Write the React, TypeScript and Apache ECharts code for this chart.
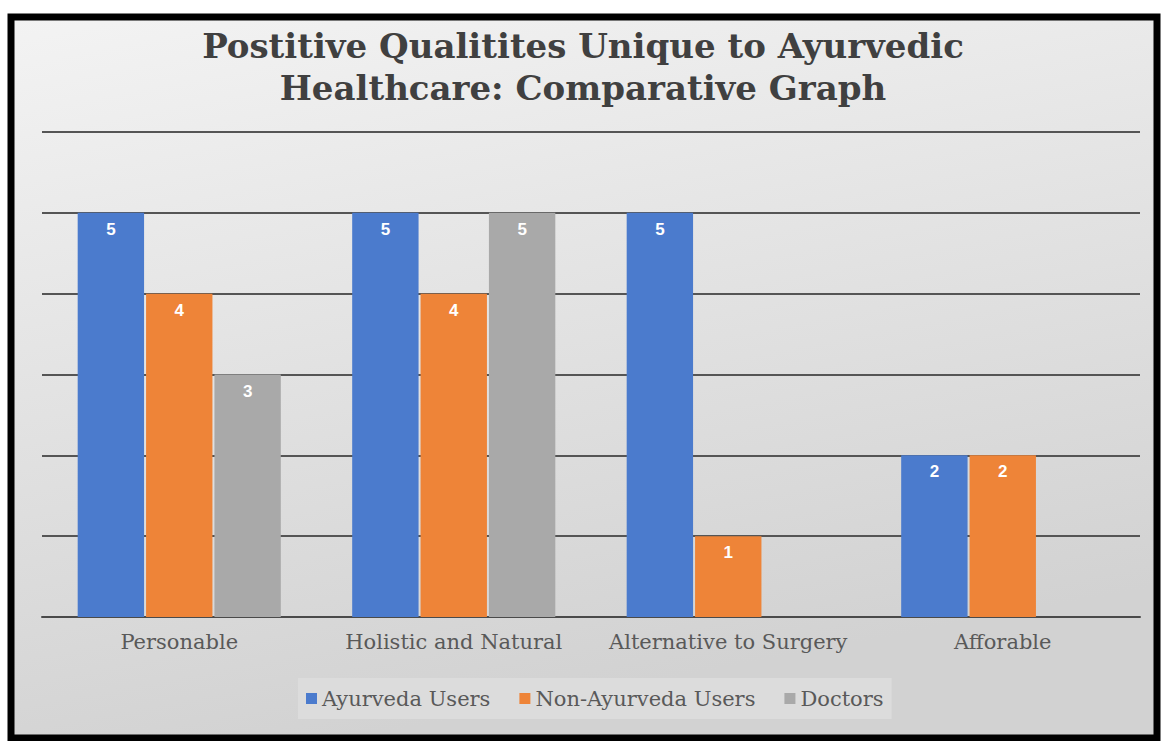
import React, { useEffect, useRef } from "react";
import * as echarts from "echarts";

const titleLines = ["Postitive Qualitites Unique to Ayurvedic", "Healthcare: Comparative Graph"];
const categories = ["Personable", "Holistic and Natural", "Alternative to Surgery", "Afforable"];
const seriesNames = ["Ayurveda Users", "Non-Ayurveda Users", "Doctors"];
const ayurvedaUsers = [5, 5, 5, 2];
const nonAyurvedaUsers = [4, 4, 1, 2];
const doctors = [3, 5, 0, 0];
const seriesColors = ["#4b7bcd", "#ee8438", "#a9a9a9"];

const SERIF = "'DejaVu Serif', 'Liberation Serif', serif";

export default function App() {
  const ref = useRef<HTMLDivElement>(null);

  useEffect(() => {
    if (!ref.current) return;
    const chart = echarts.init(ref.current, undefined, { renderer: "svg" });
    const values = [ayurvedaUsers, nonAyurvedaUsers, doctors];

    chart.setOption({
      animation: false,
      backgroundColor: "#ffffff",
      graphic: [
        {
          type: "rect",
          z: -10,
          silent: true,
          shape: { x: 11, y: 17, width: 1146, height: 721 },
          style: {
            fill: new echarts.graphic.LinearGradient(0, 0, 0.3, 1, [
              { offset: 0, color: "#f3f3f3" },
              { offset: 1, color: "#d2d2d2" },
            ]),
            stroke: "#000000",
            lineWidth: 7,
          },
        },
        {
          type: "text",
          left: "center",
          top: 25,
          style: {
            text: titleLines.join("\n"),
            font: `bold 34px ${SERIF}`,
            fill: "#404040",
            textAlign: "center",
            lineHeight: 42,
          },
        },
      ],
      grid: { left: 42, right: 26, top: 132, bottom: 124 },
      legend: {
        data: seriesNames,
        bottom: 22,
        left: 298,
        itemWidth: 11,
        itemHeight: 11,
        itemGap: 29,
        padding: [10, 8, 10, 8],
        backgroundColor: "#dcdcdc",
        icon: "rect",
        textStyle: { fontFamily: SERIF, fontSize: 21, color: "#595959" },
      },
      xAxis: {
        type: "category",
        data: categories,
        axisTick: { show: false },
        axisLine: { lineStyle: { color: "#4a4a4a", width: 2 } },
        axisLabel: {
          interval: 0,
          fontFamily: SERIF,
          fontSize: 21,
          color: "#595959",
          margin: 14,
        },
      },
      yAxis: {
        type: "value",
        min: 0,
        max: 6,
        interval: 1,
        axisLabel: { show: false },
        axisLine: { show: false },
        axisTick: { show: false },
        splitLine: { lineStyle: { color: "#555555", width: 2 } },
      },
      series: seriesNames.map((name, i) => ({
        name,
        type: "bar",
        data: values[i],
        barCategoryGap: "26%",
        barGap: "3%",
        itemStyle: { color: seriesColors[i] },
        label: {
          show: true,
          position: "insideTop",
          distance: 8,
          color: "#ffffff",
          fontFamily: "'Liberation Sans', Arial, sans-serif",
          fontWeight: "bold",
          fontSize: 17,
          formatter: (p: any) => (p.value ? String(p.value) : ""),
        },
      })),
    });

    return () => chart.dispose();
  }, []);

  return (
    <div
      ref={ref}
      style={{ position: "fixed", left: 0, top: 0, width: 1166, height: 741 }}
    />
  );
}
